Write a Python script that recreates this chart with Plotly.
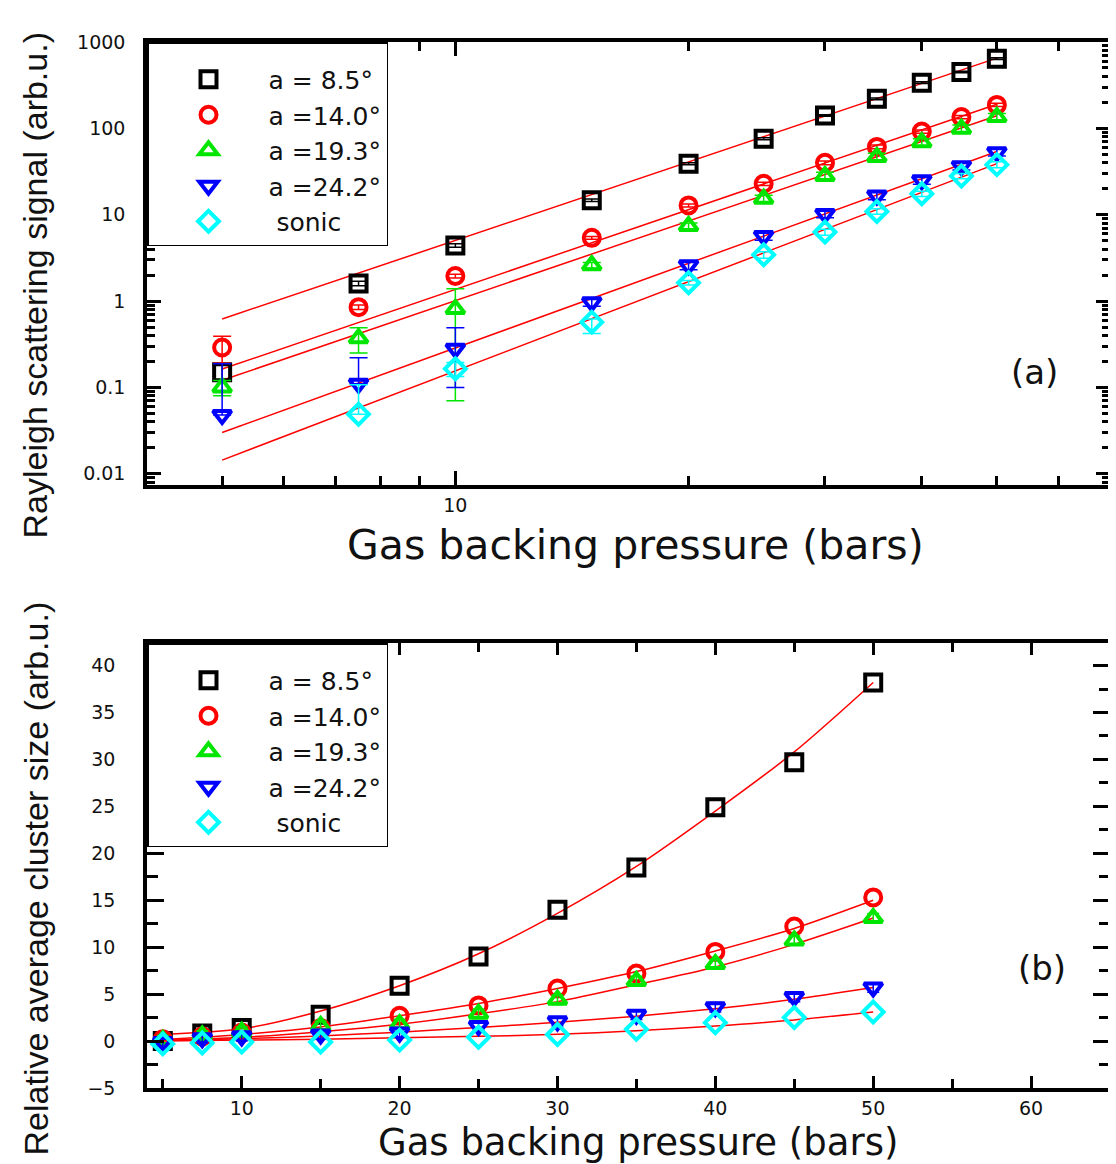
import plotly.graph_objects as go

# ---------------- data ----------------
pressure = [5, 7.5, 10, 15, 20, 25, 30, 35, 40, 45, 50]
labels = ["a = 8.5°", "a =14.0°", "a =19.3°", "a =24.2°", "\u00a0sonic"]

# (a) Rayleigh scattering signal (arb.u.)
sig_85 = [0.15, 1.6, 4.4, 14.7, 39, 76, 141, 220, 338, 449, 641]
sig_140 = [0.29, 0.85, 1.95, 5.4, 12.8, 22.8, 40, 61, 92, 135, 187]
sig_193 = [0.10, 0.37, 0.81, 2.6, 7.4, 15.3, 28, 46.5, 69, 99, 135]
sig_242 = [0.048, 0.11, 0.28, 0.97, 2.6, 5.65, 10.2, 16.7, 25, 36.5, 53]
sig_sonic = [None, 0.049, 0.164, 0.57, 1.63, 3.43, 6.3, 10.9, 17.5, 28, 38]

# visible error bars (plus / minus)
sig_85_ep = [0.03, 0.1, 0.2, 0.5, 1, 2, 3, 5, 8, 10, 15]
sig_85_em = [0.03, 0.1, 0.2, 0.5, 1, 2, 3, 5, 8, 10, 15]
sig_140_ep = [0.1, 0.05, 0.1, 0.2, 0.5, 1, 2, 3, 4, 6, 8]
sig_140_em = [0.1, 0.05, 0.1, 0.2, 0.5, 1, 2, 3, 4, 6, 8]
sig_193_ep = [0.02, 0.12, 0.58, 0.2, 0.6, 1.5, 3, 5, 7, 10, 14]
sig_193_em = [0.02, 0.12, 0.74, 0.2, 0.6, 1.5, 3, 5, 7, 10, 14]
sig_242_ep = [0.14, 0.11, 0.21, 0.1, 0.3, 0.6, 1.0, 1.8, 2.5, 3.5, 5]
sig_242_em = [0.0, 0.0, 0.18, 0.1, 0.3, 0.6, 1.0, 1.8, 2.5, 3.5, 5]
sig_sonic_ep = [0, 0.058, 0.03, 0.05, 0.1, 0.3, 0.5, 0.8, 1.2, 2, 3]
sig_sonic_em = [0, 0.0, 0.03, 0.15, 0.1, 0.3, 0.5, 0.8, 1.2, 2, 3]

# power-law fits, read at both ends (x = 5 and x = 50)
fit_x = [5, 50]
fit_85 = [0.62, 650]
fit_140 = [0.163, 190]
fit_193 = [0.121, 140]
fit_242 = [0.030, 54]
fit_sonic = [0.0144, 39]

# (b) Relative average cluster size (arb.u.)
size_85 = [0.0, 0.8, 1.4, 2.8, 5.9, 9.0, 14.0, 18.5, 24.9, 29.7, 38.2]
size_140 = [0.2, 0.5, 0.9, 1.4, 2.7, 3.8, 5.6, 7.2, 9.5, 12.2, 15.3]
size_193 = [0.1, 0.6, 1.0, 1.6, 1.8, 2.9, 4.4, 6.4, 8.2, 10.7, 13.1]
size_242 = [-0.1, 0.3, 0.5, 0.7, 0.9, 1.6, 2.1, 2.8, 3.6, 4.7, 5.7]
size_sonic = [-0.3, -0.2, -0.1, -0.1, 0.1, 0.4, 0.7, 1.25, 1.96, 2.5, 3.1]
size_err = [0.0, 0.0, 0.5, 0.5, 0.0]

# fitted curves
fitb_x = [5, 10, 15, 20, 25, 30, 35, 40, 45, 50]
fitb_85 = [0.7, 1.3, 3.2, 5.9, 9.3, 13.6, 18.6, 24.5, 30.8, 38.2]
fitb_140 = [0.15, 0.7, 1.5, 2.7, 4.0, 5.6, 7.4, 9.6, 12.0, 15.0]
fitb_193 = [0.05, 0.4, 1.0, 1.8, 2.9, 4.2, 6.0, 7.9, 10.3, 13.1]
fitb_242 = [0.05, 0.25, 0.55, 0.95, 1.45, 2.0, 2.65, 3.45, 4.45, 5.7]
fitb_sonic = [0.0, 0.1, 0.2, 0.35, 0.5, 0.72, 1.1, 1.6, 2.25, 3.1]

# ---------------- style ----------------
colors = ["#000000", "#ff0000", "#00e600", "#0000ff", "#00ffff"]
symbols = ["square-open", "circle-open", "triangle-up-open", "triangle-down-open", "diamond-open"]
FIT_COLOR = "#ff0000"
TICK_FONT = dict(family="DejaVu Sans", size=19, color="#111111")

sigs = [sig_85, sig_140, sig_193, sig_242, sig_sonic]
sig_ep = [sig_85_ep, sig_140_ep, sig_193_ep, sig_242_ep, sig_sonic_ep]
sig_em = [sig_85_em, sig_140_em, sig_193_em, sig_242_em, sig_sonic_em]
fits = [fit_85, fit_140, fit_193, fit_242, fit_sonic]
sizes = [size_85, size_140, size_193, size_242, size_sonic]
fitsb = [fitb_85, fitb_140, fitb_193, fitb_242, fitb_sonic]

fig = go.Figure()

# panel (a)
for f in fits:
    fig.add_trace(go.Scatter(x=fit_x, y=f, mode="lines", xaxis="x", yaxis="y",
                             line=dict(color=FIT_COLOR, width=1.5), showlegend=False,
                             hoverinfo="skip"))
for i in range(5):
    fig.add_trace(go.Scatter(
        x=pressure, y=sigs[i], mode="markers", name=labels[i], xaxis="x", yaxis="y",
        legend="legend",
        marker=dict(symbol=symbols[i], size=16, color=colors[i], line=dict(width=4, color=colors[i])),
        error_y=dict(type="data", symmetric=False, array=sig_ep[i], arrayminus=sig_em[i],
                     color=colors[i], thickness=1.5, width=9),
    ))

# panel (b)
for f in fitsb:
    fig.add_trace(go.Scatter(x=fitb_x, y=f, mode="lines", xaxis="x2", yaxis="y2",
                             line=dict(color=FIT_COLOR, width=1.5, shape="spline", smoothing=0.8),
                             showlegend=False, hoverinfo="skip"))
for i in range(5):
    fig.add_trace(go.Scatter(
        x=pressure, y=sizes[i], mode="markers", name=labels[i], xaxis="x2", yaxis="y2",
        legend="legend2",
        marker=dict(symbol=symbols[i], size=16, color=colors[i], line=dict(width=4, color=colors[i])),
        error_y=dict(type="constant", value=size_err[i], color=colors[i], thickness=1.5, width=6,
                     visible=size_err[i] > 0),
    ))

axis_common = dict(showline=True, linewidth=3.5, linecolor="black", mirror="ticks",
                   ticks="inside", tickcolor="black", tickwidth=2.5, showgrid=False,
                   zeroline=False, tickfont=TICK_FONT)

top_minor_y = [m * 10 ** e for e in range(-3, 3) for m in range(2, 10)]

legend_style = dict(xanchor="left", yanchor="top", bgcolor="white",
                    bordercolor="black", borderwidth=1.5, itemwidth=110,
                    font=dict(family="DejaVu Sans", size=25, color="#111111"),
                    title=dict(text="\u00a0", font=dict(size=10)),
                    tracegroupgap=0)

fig.update_layout(
    width=1116, height=1164,
    margin=dict(l=139, r=10, t=34, b=84),
    paper_bgcolor="white", plot_bgcolor="white",
    font=dict(family="DejaVu Sans", color="black"),
    xaxis=dict(type="log", range=[0.602, 1.845], domain=[0, 1], anchor="y",
               tickvals=[10], ticktext=["10"], ticklen=14,
               minor=dict(tickvals=[5, 6, 7, 8, 9, 20, 30, 40, 50, 60], ticks="inside",
                          ticklen=9, tickwidth=2.5, tickcolor="black"),
               **axis_common),
    yaxis=dict(type="log", range=[-2.13, 3.0], domain=[0.5765, 1], anchor="x",
               tickvals=[0.01, 0.1, 1, 10, 100, 1000],
               ticktext=["0.01", "0.1", "1", "10", "100", "1000"], ticklen=14,
               ticklabelstandoff=14,
               minor=dict(tickvals=top_minor_y, ticks="inside", ticklen=8,
                          tickwidth=2.5, tickcolor="black"),
               **axis_common),
    xaxis2=dict(range=[4, 65], domain=[0, 1], anchor="y2", dtick=10, tick0=0, ticklen=12,
                ticklabelstandoff=0,
                minor=dict(dtick=5, tick0=0, ticks="inside", ticklen=9, tickwidth=2.5,
                           tickcolor="black"),
                **axis_common),
    yaxis2=dict(range=[-5, 42.4], domain=[0, 0.4254], anchor="x2", dtick=5, tick0=0, ticklen=17,
                ticklabelstandoff=24,
                minor=dict(dtick=2.5, tick0=0, ticks="inside", ticklen=11, tickwidth=2.5,
                           tickcolor="black"),
                **axis_common),
    legend=dict(x=0, y=1, **legend_style),
    legend2=dict(x=0, y=0.4254, **legend_style),
    annotations=[
        dict(text="Rayleigh scattering signal (arb.u.)", textangle=-90, xref="paper", yref="paper",
             x=-0.1158, y=0.7677, showarrow=False, xanchor="center", yanchor="middle",
             font=dict(family="Liberation Sans", size=34, color="#111111")),
        dict(text="Relative average cluster size (arb.u.)", textangle=-90, xref="paper", yref="paper",
             x=-0.1158, y=0.2008, showarrow=False, xanchor="center", yanchor="middle",
             font=dict(family="Liberation Sans", size=34, color="#111111")),
        dict(text="Gas backing pressure (bars)", xref="paper", yref="paper",
             x=0.507, y=0.519, showarrow=False, xanchor="center", yanchor="middle",
             font=dict(family="DejaVu Sans", size=41, color="#111111")),
        dict(text="Gas backing pressure (bars)", xref="paper", yref="paper",
             x=0.51, y=-0.0518, showarrow=False, xanchor="center", yanchor="middle",
             font=dict(family="DejaVu Sans", size=37, color="#111111")),
        dict(text="(a)", xref="paper", yref="paper", x=0.922, y=0.6845, showarrow=False,
             xanchor="center", yanchor="middle",
             font=dict(family="DejaVu Sans", size=34, color="#111111")),
        dict(text="(b)", xref="paper", yref="paper", x=0.9296, y=0.1147, showarrow=False,
             xanchor="center", yanchor="middle",
             font=dict(family="DejaVu Sans", size=34, color="#111111")),
    ],
)

fig.write_html("out.html")
